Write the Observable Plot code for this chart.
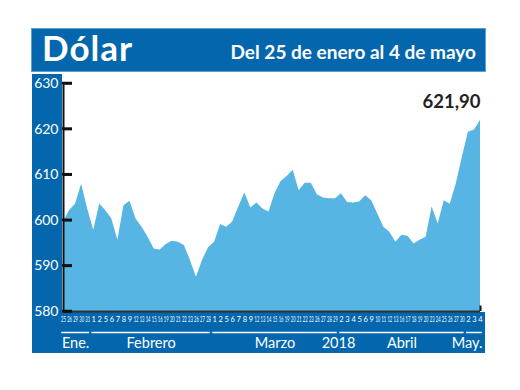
<!DOCTYPE html>
<html><head><meta charset="utf-8">
<script src="https://cdn.jsdelivr.net/npm/d3@7"></script>
<script src="https://cdn.jsdelivr.net/npm/@observablehq/plot@0.6"></script>
<style>
html,body{margin:0;padding:0;background:#fff;}
#wrap{position:relative;width:520px;height:390px;overflow:hidden;font-family:Lato,"Open Sans",sans-serif;}
.blue{position:absolute;background:#0467ae;}
#title{left:32px;top:29px;width:453px;height:42px;box-shadow:0 0 0 1px #5d9fd0;}
#title .t{position:absolute;left:10px;top:-3px;color:#fff;font-size:35px;font-weight:700;letter-spacing:1px;}
#title .s{position:absolute;right:9px;top:11px;color:#fff;font-size:19px;font-weight:700;}
#left{left:32px;top:74px;width:30px;height:279px;}
#bottom{left:32px;top:312px;width:453px;height:41px;}
#chart{position:absolute;left:0;top:0;z-index:2;}
</style></head>
<body><div id="wrap">
<div class="blue" id="title"><span class="t">Dólar</span><span class="s">Del 25 de enero al 4 de mayo</span></div>
<div class="blue" id="left"></div>
<div class="blue" id="bottom"></div>
<div id="chart"></div>
</div>
<script>
const days = [25,26,29,30,31,
  1,2,5,6,7,8,9,12,13,14,15,16,19,20,21,22,23,26,27,28,
  1,2,5,6,7,8,9,12,13,14,15,16,19,20,21,22,23,26,27,28,29,
  2,3,4,5,6,9,10,11,12,13,16,17,18,19,20,23,24,25,26,27,30,
  2,3,4];
const values = [599.6,602.1,603.6,607.9,602.5,
  597.8,603.6,602.1,600.3,595.6,603.2,604.2,600.3,598.5,596.3,593.7,593.5,594.7,595.4,595.2,594.5,591.2,587.5,591.2,594.0,
  595.2,599.1,598.5,599.6,602.9,606.0,602.7,603.8,602.5,601.8,605.8,608.5,609.6,611.0,606.5,608.1,608.1,605.6,604.9,604.7,604.7,
  605.8,603.9,603.8,604.0,605.4,604.3,601.4,598.5,597.4,595.2,596.7,596.5,594.8,595.6,596.3,602.9,599.2,604.3,603.5,608.0,613.8,
  619.3,619.8,621.9];
const monthNames = ["Ene.","Febrero","Marzo","Abril","May."];
const monthCounts = [5,20,21,21,3];
const yearLabel = "2018";
const yTicks = [580,590,600,610,620,630];

const data = values.map((v,i)=>({i, v, day: days[i]}));
let start = 0;
const months = monthNames.map((name,k)=>{
  const s = start, e = start + monthCounts[k] - 1; start = e + 1;
  return {name, s, e, x1: s - 0.3, x2: e + 0.3, c: (s + e) / 2};
});
const yearPos = (months[2].e + months[3].s) / 2;
const last = data[data.length-1];

const plot = Plot.plot({
  width: 520, height: 390,
  marginLeft: 63, marginRight: 40, marginTop: 83, marginBottom: 79,
  style: {background: "transparent", fontFamily: "Lato, sans-serif"},
  x: {type: "linear", domain: [0, 69]},
  y: {domain: [580, 630]},
  marks: [
    Plot.areaY(data, {x: "i", y1: 580, y2: "v", fill: "#56b5e3"}),
    Plot.ruleY([580], {stroke: "#333", strokeWidth: 2}),
    Plot.ruleX([0], {y1: 580, y2: 630, stroke: "#111", strokeWidth: 2}),
    Plot.ruleX([69], {y1: 580, y2: 581.2, stroke: "#111", strokeWidth: 2}),
    Plot.axisY(yTicks, {tickSize: 9, dx: 9, stroke: "#111", strokeWidth: 2.5, tickFormat: () => "", label: null}),
    Plot.axisY(yTicks, {tickSize: 0, tickPadding: 5, fill: "white", fontSize: 14, label: null}),
    Plot.axisX(d3.range(days.length), {tickSize: 0, tickPadding: 5, tickFormat: i => days[i], fill: "white", fontSize: 7.5, label: null}),
    Plot.ruleY(months, {y: 580, x1: "x1", x2: "x2", dy: 21, stroke: "white", strokeWidth: 1.5}),
    Plot.text(months.slice(0, -1), {x: "c", y: 580, text: "name", dy: 32, fill: "white", fontSize: 14.5}),
    Plot.text(months.slice(-1), {x: "x2", y: 580, text: "name", dy: 32, textAnchor: "end", fill: "white", fontSize: 14.5}),
    Plot.text([yearLabel], {x: yearPos, y: 580, text: d => d, dy: 32, fill: "white", fontSize: 14.5}),
    Plot.text([last], {x: "i", y: "v", text: d => d.v.toFixed(2).replace(".", ","), textAnchor: "end", lineAnchor: "bottom", dy: -12, fontSize: 18.5, fontWeight: "bold", fill: "#222"})
  ]
});
document.getElementById("chart").appendChild(plot);
plot.querySelectorAll('g[aria-label="x-axis tick label"] text').forEach(el => {
  if (el.textContent.length !== 2) return;
  const tr = el.getAttribute("transform") || "";
  el.setAttribute("transform", `${tr} scale(0.55,1)`);
});
// y tick marks pointing into the plot, placed with the plot's own scales
const xs = plot.scale("x"), ys = plot.scale("y");
const tg = d3.select(plot).append("g").attr("aria-label", "y tick marks");
yTicks.forEach(v => {
  const y = ys.apply(v), x0 = xs.apply(0);
  tg.append("line").attr("x1", x0 - 1).attr("x2", x0 + 9).attr("y1", y).attr("y2", y)
    .attr("stroke", "#111").attr("stroke-width", 2.5);
});
</script>
</body></html>
